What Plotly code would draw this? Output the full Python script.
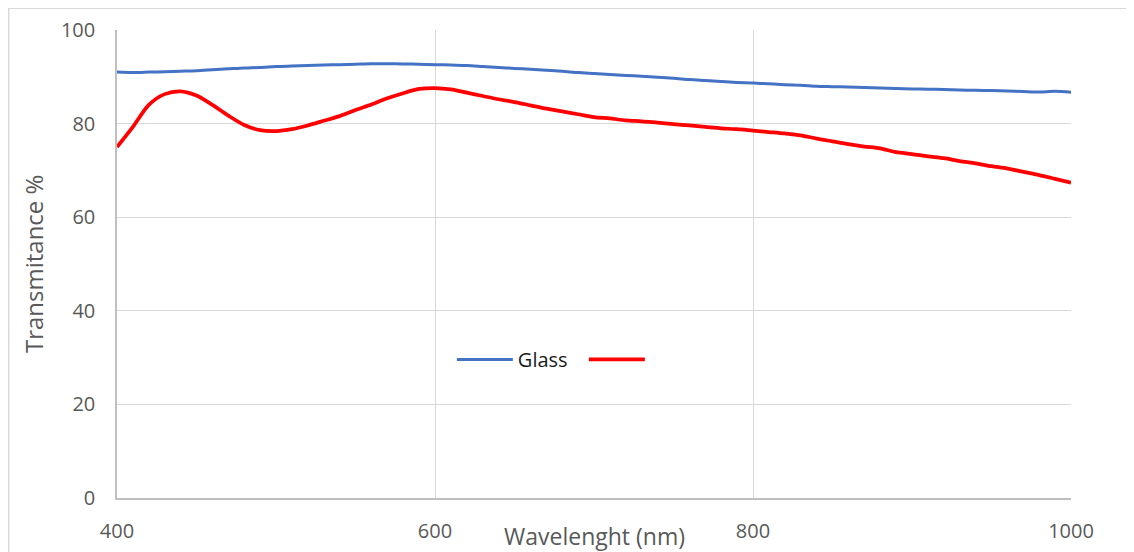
import plotly.graph_objects as go

wavelength = [400, 410, 420, 430, 440, 450, 460, 470, 480, 490,
              500, 510, 520, 530, 540, 550, 560, 570, 580, 590,
              600, 610, 620, 630, 640, 650, 660, 670, 680, 690,
              700, 710, 720, 730, 740, 750, 760, 770, 780, 790,
              800, 810, 820, 830, 840, 850, 860, 870, 880, 890,
              900, 910, 920, 930, 940, 950, 960, 970, 980, 990, 1000]

glass = [91.0, 90.9, 91.0, 91.1, 91.2, 91.3, 91.5, 91.7, 91.9, 92.0,
         92.2, 92.3, 92.4, 92.5, 92.6, 92.7, 92.8, 92.8, 92.75, 92.7,
         92.6, 92.5, 92.4, 92.2, 92.0, 91.8, 91.6, 91.4, 91.2, 90.9,
         90.7, 90.5, 90.3, 90.1, 89.9, 89.7, 89.4, 89.2, 89.0, 88.8,
         88.7, 88.5, 88.3, 88.2, 88.0, 87.9, 87.8, 87.7, 87.6, 87.5,
         87.4, 87.35, 87.3, 87.2, 87.1, 87.05, 86.95, 86.85, 86.75, 86.9, 86.7]

coated = [75.0, 79.3, 84.0, 86.3, 86.9, 86.0, 84.0, 81.7, 79.7, 78.6,
          78.4, 78.8, 79.6, 80.6, 81.6, 82.9, 84.1, 85.4, 86.5, 87.4,
          87.6, 87.3, 86.6, 85.9, 85.2, 84.6, 83.9, 83.2, 82.6, 82.0,
          81.4, 81.1, 80.7, 80.5, 80.2, 79.9, 79.6, 79.3, 79.0, 78.8,
          78.5, 78.2, 77.9, 77.5, 76.8, 76.2, 75.6, 75.1, 74.7, 73.9,
          73.5, 73.0, 72.6, 72.0, 71.5, 70.9, 70.4, 69.7, 69.0, 68.2, 67.4]

x_ticks = [400, 600, 800, 1000]
y_ticks = [0, 20, 40, 60, 80, 100]

x_title = "Wavelenght (nm)"
y_title = "Transmitance %"

FONT = "Open Sans"
GREY = "#595959"

fig = go.Figure()
fig.add_trace(go.Scatter(x=wavelength, y=glass, mode="lines", name="Glass",
                         line=dict(color="#4472C4", width=3, shape="spline", smoothing=0.8)))
fig.add_trace(go.Scatter(x=wavelength, y=coated, mode="lines", name=" ",
                         line=dict(color="#FF0000", width=3.75, shape="spline", smoothing=0.8)))

fig.update_layout(
    width=1126, height=544,
    margin=dict(l=109, r=63, t=22, b=54, pad=0, autoexpand=False),
    paper_bgcolor="white", plot_bgcolor="white",
    font=dict(family=FONT, size=20, color=GREY),
    showlegend=True,
    legend=dict(orientation="h", x=0.351, y=0.296, xanchor="left", yanchor="middle",
                font=dict(family=FONT, size=20, color="#1a1a1a"),
                bgcolor="rgba(0,0,0,0)", itemwidth=56, entrywidth=61,
                entrywidthmode="pixels", tracegroupgap=0),
    xaxis=dict(range=[400, 1000], tickvals=x_ticks, ticktext=[str(v) for v in x_ticks],
               showgrid=True, gridcolor="#d9d9d9", gridwidth=1,
               showline=True, linecolor="#bfbfbf", linewidth=1.5,
               zeroline=False, ticks="", ticklabelstandoff=14, automargin=False,
               tickfont=dict(family=FONT, size=20, color=GREY)),
    yaxis=dict(range=[0, 100], tickvals=y_ticks, ticktext=[str(v) for v in y_ticks],
               showgrid=True, gridcolor="#d9d9d9", gridwidth=1,
               showline=True, linecolor="#bfbfbf", linewidth=1.5,
               zeroline=False, ticks="", ticklabelstandoff=16, automargin=False,
               tickfont=dict(family=FONT, size=20, color=GREY)),
    annotations=[
        dict(text=x_title, xref="paper", yref="paper", x=0.5, y=-0.081,
             xanchor="center", yanchor="middle", showarrow=False,
             font=dict(family=FONT, size=23, color=GREY)),
        dict(text=y_title, xref="paper", yref="paper", x=-0.088, y=0.5,
             xanchor="center", yanchor="middle", showarrow=False, textangle=-90,
             font=dict(family=FONT, size=24, color=GREY)),
    ],
    shapes=[dict(type="rect", xref="paper", yref="paper",
                 x0=-0.1135, x1=1.08, y0=-0.3, y1=1.0465,
                 line=dict(color="#d9d9d9", width=1.5), fillcolor="rgba(0,0,0,0)",
                 layer="below")],
)

fig.write_html("out.html")
